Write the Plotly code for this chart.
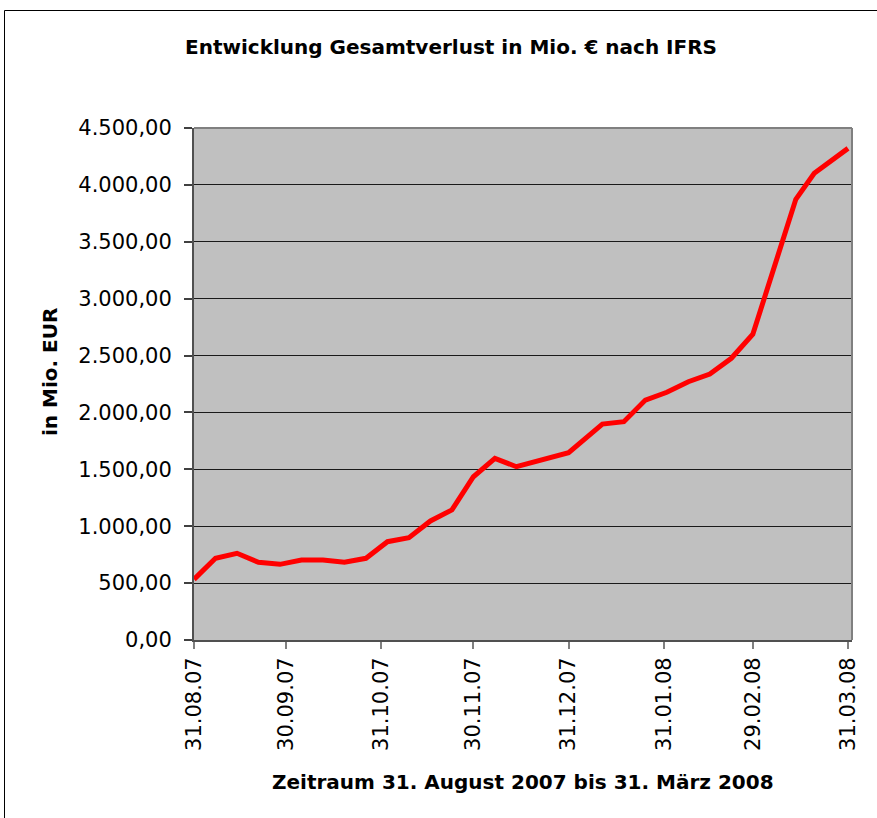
import plotly.graph_objects as go
import pandas as pd

dates = ["2007-08-31", "2007-09-07", "2007-09-14", "2007-09-21", "2007-09-28",
         "2007-10-05", "2007-10-12", "2007-10-19", "2007-10-26", "2007-11-02",
         "2007-11-09", "2007-11-16", "2007-11-23", "2007-11-30", "2007-12-07",
         "2007-12-14", "2007-12-31", "2008-01-11", "2008-01-18", "2008-01-25",
         "2008-02-01", "2008-02-08", "2008-02-15", "2008-02-22", "2008-02-29",
         "2008-03-14", "2008-03-20", "2008-03-31"]
verlust = [533, 718, 762, 683, 665,
           703, 703, 683, 718, 864,
           899, 1046, 1143, 1435, 1597,
           1523, 1646, 1898, 1919, 2109,
           2177, 2270, 2338, 2476, 2687,
           3873, 4102, 4321]

tick_dates = ["2007-08-31", "2007-09-30", "2007-10-31", "2007-11-30",
              "2007-12-31", "2008-01-31", "2008-02-29", "2008-03-31"]
tick_labels = ["31.08.07", "30.09.07", "31.10.07", "30.11.07",
               "31.12.07", "31.01.08", "29.02.08", "31.03.08"]
y_ticks = [0, 500, 1000, 1500, 2000, 2500, 3000, 3500, 4000, 4500]

title_text = "Entwicklung Gesamtverlust in Mio. € nach IFRS"
x_title = "Zeitraum 31. August 2007 bis 31. März 2008"
y_title = "in Mio. EUR"

FONT = "DejaVu Sans"

fig = go.Figure()
fig.add_trace(go.Scatter(
    x=pd.to_datetime(dates), y=verlust, mode="lines",
    line=dict(color="#FF0000", width=5), showlegend=False, hoverinfo="x+y"))

x_start = pd.Timestamp("2007-08-31")
x_end = x_start + pd.Timedelta(hours=214.3 * 24)

fig.update_layout(
    width=877, height=818,
    margin=dict(l=194, r=25, t=128, b=178),
    paper_bgcolor="white", plot_bgcolor="#C0C0C0",
    separators=",.",
    font=dict(family=FONT, size=20, color="black"),
    showlegend=False,
)

fig.update_xaxes(
    type="date", range=[x_start, x_end],
    tickmode="array", tickvals=pd.to_datetime(tick_dates), ticktext=tick_labels,
    tickangle=-90, ticks="outside", ticklen=7, tickcolor="#808080", tickwidth=1.5,
    showgrid=False, zeroline=False,
    showline=True, linecolor="#505050", linewidth=2,
    tickfont=dict(family=FONT, size=21, color="black"),
)
fig.update_yaxes(
    range=[0, 4500], tickmode="array", tickvals=y_ticks, tickformat=",.2f",
    ticks="outside", ticklen=8, tickcolor="#404040", tickwidth=1.5,
    ticklabelstandoff=8,
    showgrid=True, gridcolor="#1a1a1a", gridwidth=1,
    zeroline=False, showline=True, linecolor="#505050", linewidth=2,
    tickfont=dict(family=FONT, size=21, color="black"),
)

fig.add_shape(type="line", xref="paper", yref="paper", x0=0, x1=1, y0=1, y1=1,
              line=dict(color="#808080", width=2))
fig.add_shape(type="line", xref="paper", yref="paper", x0=1, x1=1, y0=0, y1=1,
              line=dict(color="#808080", width=2))

fig.add_shape(type="rect", xref="paper", yref="paper",
              x0=(4.5 - 194) / 658, x1=(884 - 194) / 658,
              y0=(640 - 830) / 512, y1=(640 - 10.5) / 512,
              line=dict(color="black", width=1), layer="below")

fig.add_annotation(text="<b>" + title_text + "</b>", xref="paper", yref="paper",
                   x=(451 - 194) / 658, y=(640 - 47) / 512,
                   xanchor="center", yanchor="middle", showarrow=False,
                   font=dict(family=FONT, size=20, color="black"))
fig.add_annotation(text="<b>" + x_title + "</b>", xref="paper", yref="paper",
                   x=(523 - 194) / 658, y=(640 - 782) / 512,
                   xanchor="center", yanchor="middle", showarrow=False,
                   font=dict(family=FONT, size=20, color="black"))
fig.add_annotation(text="<b>" + y_title + "</b>", xref="paper", yref="paper",
                   x=(50 - 194) / 658, y=(640 - 372) / 512, textangle=-90,
                   xanchor="center", yanchor="middle", showarrow=False,
                   font=dict(family=FONT, size=20, color="black"))

fig.write_html("out.html", config={"displayModeBar": False},
               post_script="document.body.style.margin='0';document.body.style.padding='0';")
